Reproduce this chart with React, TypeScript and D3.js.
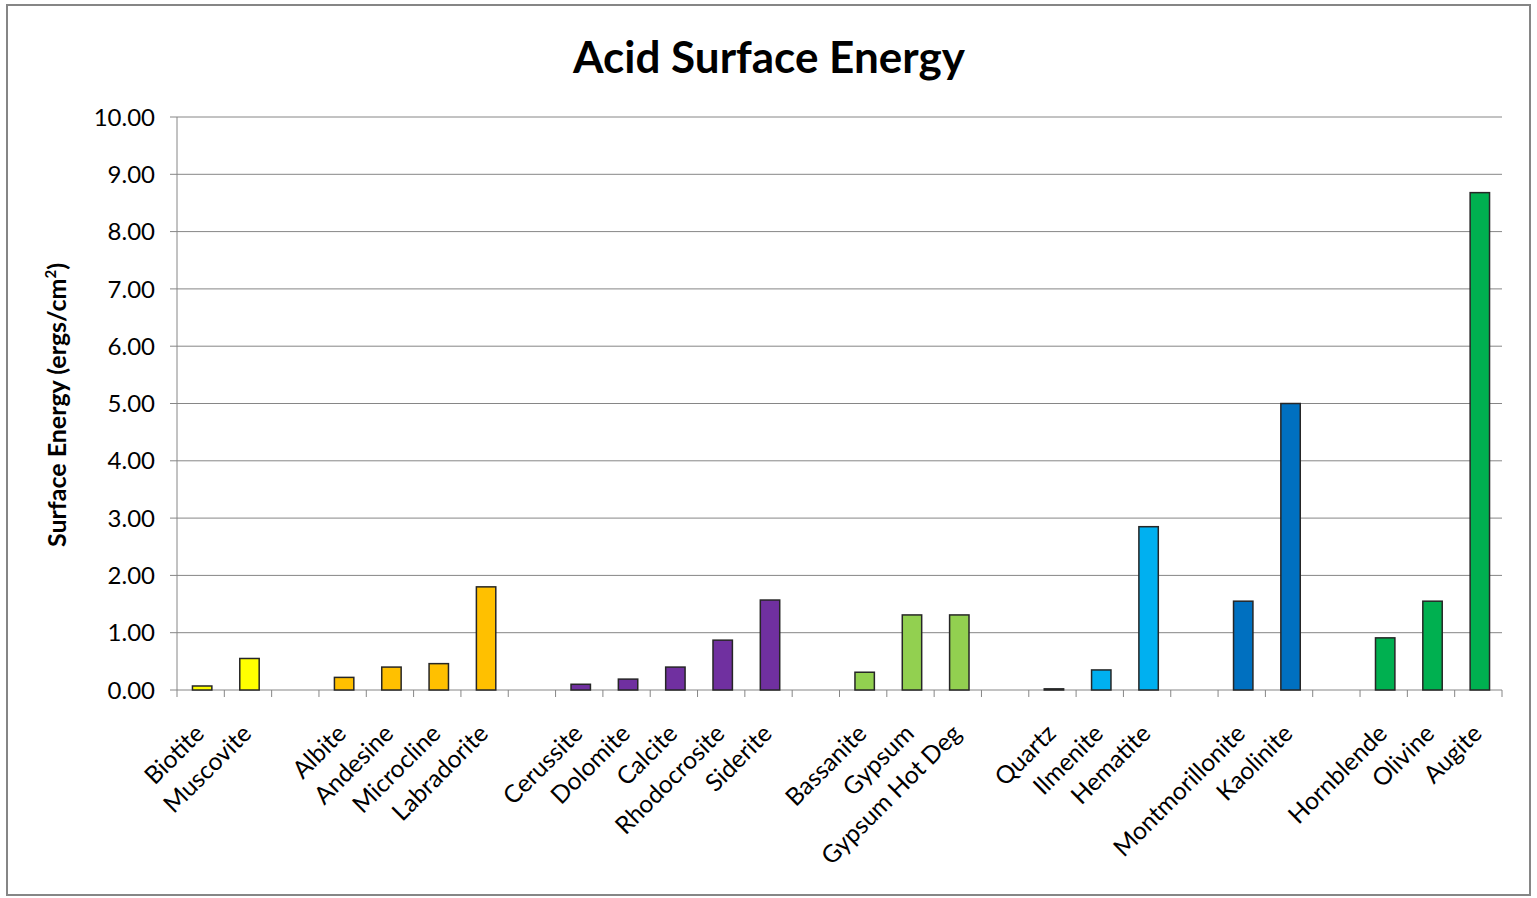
import React from "react";
import * as d3 from "d3";

// Mineral names in plotting order; empty strings are spacer slots between groups.
const categories = [
  "Biotite", "Muscovite", "",
  "Albite", "Andesine", "Microcline", "Labradorite", "",
  "Cerussite", "Dolomite", "Calcite", "Rhodocrosite", "Siderite", "",
  "Bassanite", "Gypsum", "Gypsum Hot Deg", "",
  "Quartz", "Ilmenite", "Hematite", "",
  "Montmorillonite", "Kaolinite", "",
  "Hornblende", "Olivine", "Augite",
];

// Acid surface energy (ergs/cm²); null for spacer slots.
const values: (number | null)[] = [
  0.07, 0.55, null,
  0.22, 0.40, 0.46, 1.80, null,
  0.10, 0.19, 0.40, 0.87, 1.57, null,
  0.31, 1.31, 1.31, null,
  0.02, 0.35, 2.85, null,
  1.55, 5.00, null,
  0.91, 1.55, 8.68,
];

// Fill colour per slot, by mineral group.
const colors: (string | null)[] = [
  "#FFFF00", "#FFFF00", null,
  "#FFC000", "#FFC000", "#FFC000", "#FFC000", null,
  "#7030A0", "#7030A0", "#7030A0", "#7030A0", "#7030A0", null,
  "#92D050", "#92D050", "#92D050", null,
  "#00B0F0", "#00B0F0", "#00B0F0", null,
  "#0070C0", "#0070C0", null,
  "#00B050", "#00B050", "#00B050",
];

const yTicks = [0, 1, 2, 3, 4, 5, 6, 7, 8, 9, 10];

const W = 1537;
const H = 898;
const font = "Lato, Open Sans, sans-serif";

export default function App() {
  const left = 177;
  const right = 1502;
  const top = 117;
  const bottom = 690;

  const slots = categories.map((_, i) => String(i));
  const x = d3.scaleBand<string>().domain(slots).range([left, right]).paddingInner(0).paddingOuter(0);
  const y = d3.scaleLinear().domain([0, 10]).range([bottom, top]);
  const bw = x.bandwidth();
  const barW = bw * 0.41;

  const boundaries = d3.range(categories.length + 1).map((i) => left + i * bw);

  return (
    <svg
      width={W}
      height={H}
      style={{ position: "absolute", left: 0, top: 0, background: "#fff" }}
      fontFamily={font}
    >
      <rect x={7} y={5} width={1523} height={890} fill="#fff" stroke="#868686" strokeWidth={2} />

      <text x={769} y={73} textAnchor="middle" fontSize={44} fontWeight="bold" fill="#000">
        Acid Surface Energy
      </text>

      {/* gridlines and y ticks */}
      {yTicks.map((t) => (
        <g key={t}>
          <line x1={170} x2={right} y1={y(t)} y2={y(t)} stroke="#868686" strokeWidth={1} />
          <text x={155} y={y(t)} dy="0.36em" textAnchor="end" fontSize={24} fill="#000">
            {t.toFixed(2)}
          </text>
        </g>
      ))}
      <line x1={left} x2={left} y1={top} y2={bottom} stroke="#868686" strokeWidth={1} />

      {/* category ticks on x axis */}
      {boundaries.map((bx, i) => (
        <line key={i} x1={bx} x2={bx} y1={bottom} y2={bottom + 7} stroke="#868686" strokeWidth={1} />
      ))}

      {/* bars */}
      {values.map((v, i) =>
        v == null ? null : (
          <rect
            key={i}
            x={(x(String(i)) as number) + (bw - barW) / 2 + 1.5}
            y={y(v)}
            width={barW}
            height={y(0) - y(v)}
            fill={colors[i] as string}
            stroke="#262626"
            strokeWidth={1.5}
          />
        )
      )}

      {/* rotated category labels */}
      {categories.map((c, i) => {
        if (!c) return null;
        const cx = (x(String(i)) as number) + bw / 2 + 5;
        const cy = bottom + 45;
        return (
          <text
            key={i}
            x={cx}
            y={cy}
            textAnchor="end"
            fontSize={24.5}
            fill="#000"
            transform={`rotate(-45 ${cx} ${cy})`}
          >
            {c}
          </text>
        );
      })}

      <text
        x={0}
        y={0}
        transform={`translate(66 ${405}) rotate(-90)`}
        textAnchor="middle"
        fontSize={25}
        fontWeight="bold"
        fill="#000"
      >
        Surface Energy (ergs/cm<tspan dy={-10} fontSize={15}>2</tspan>
        <tspan dy={10}>)</tspan>
      </text>
    </svg>
  );
}
